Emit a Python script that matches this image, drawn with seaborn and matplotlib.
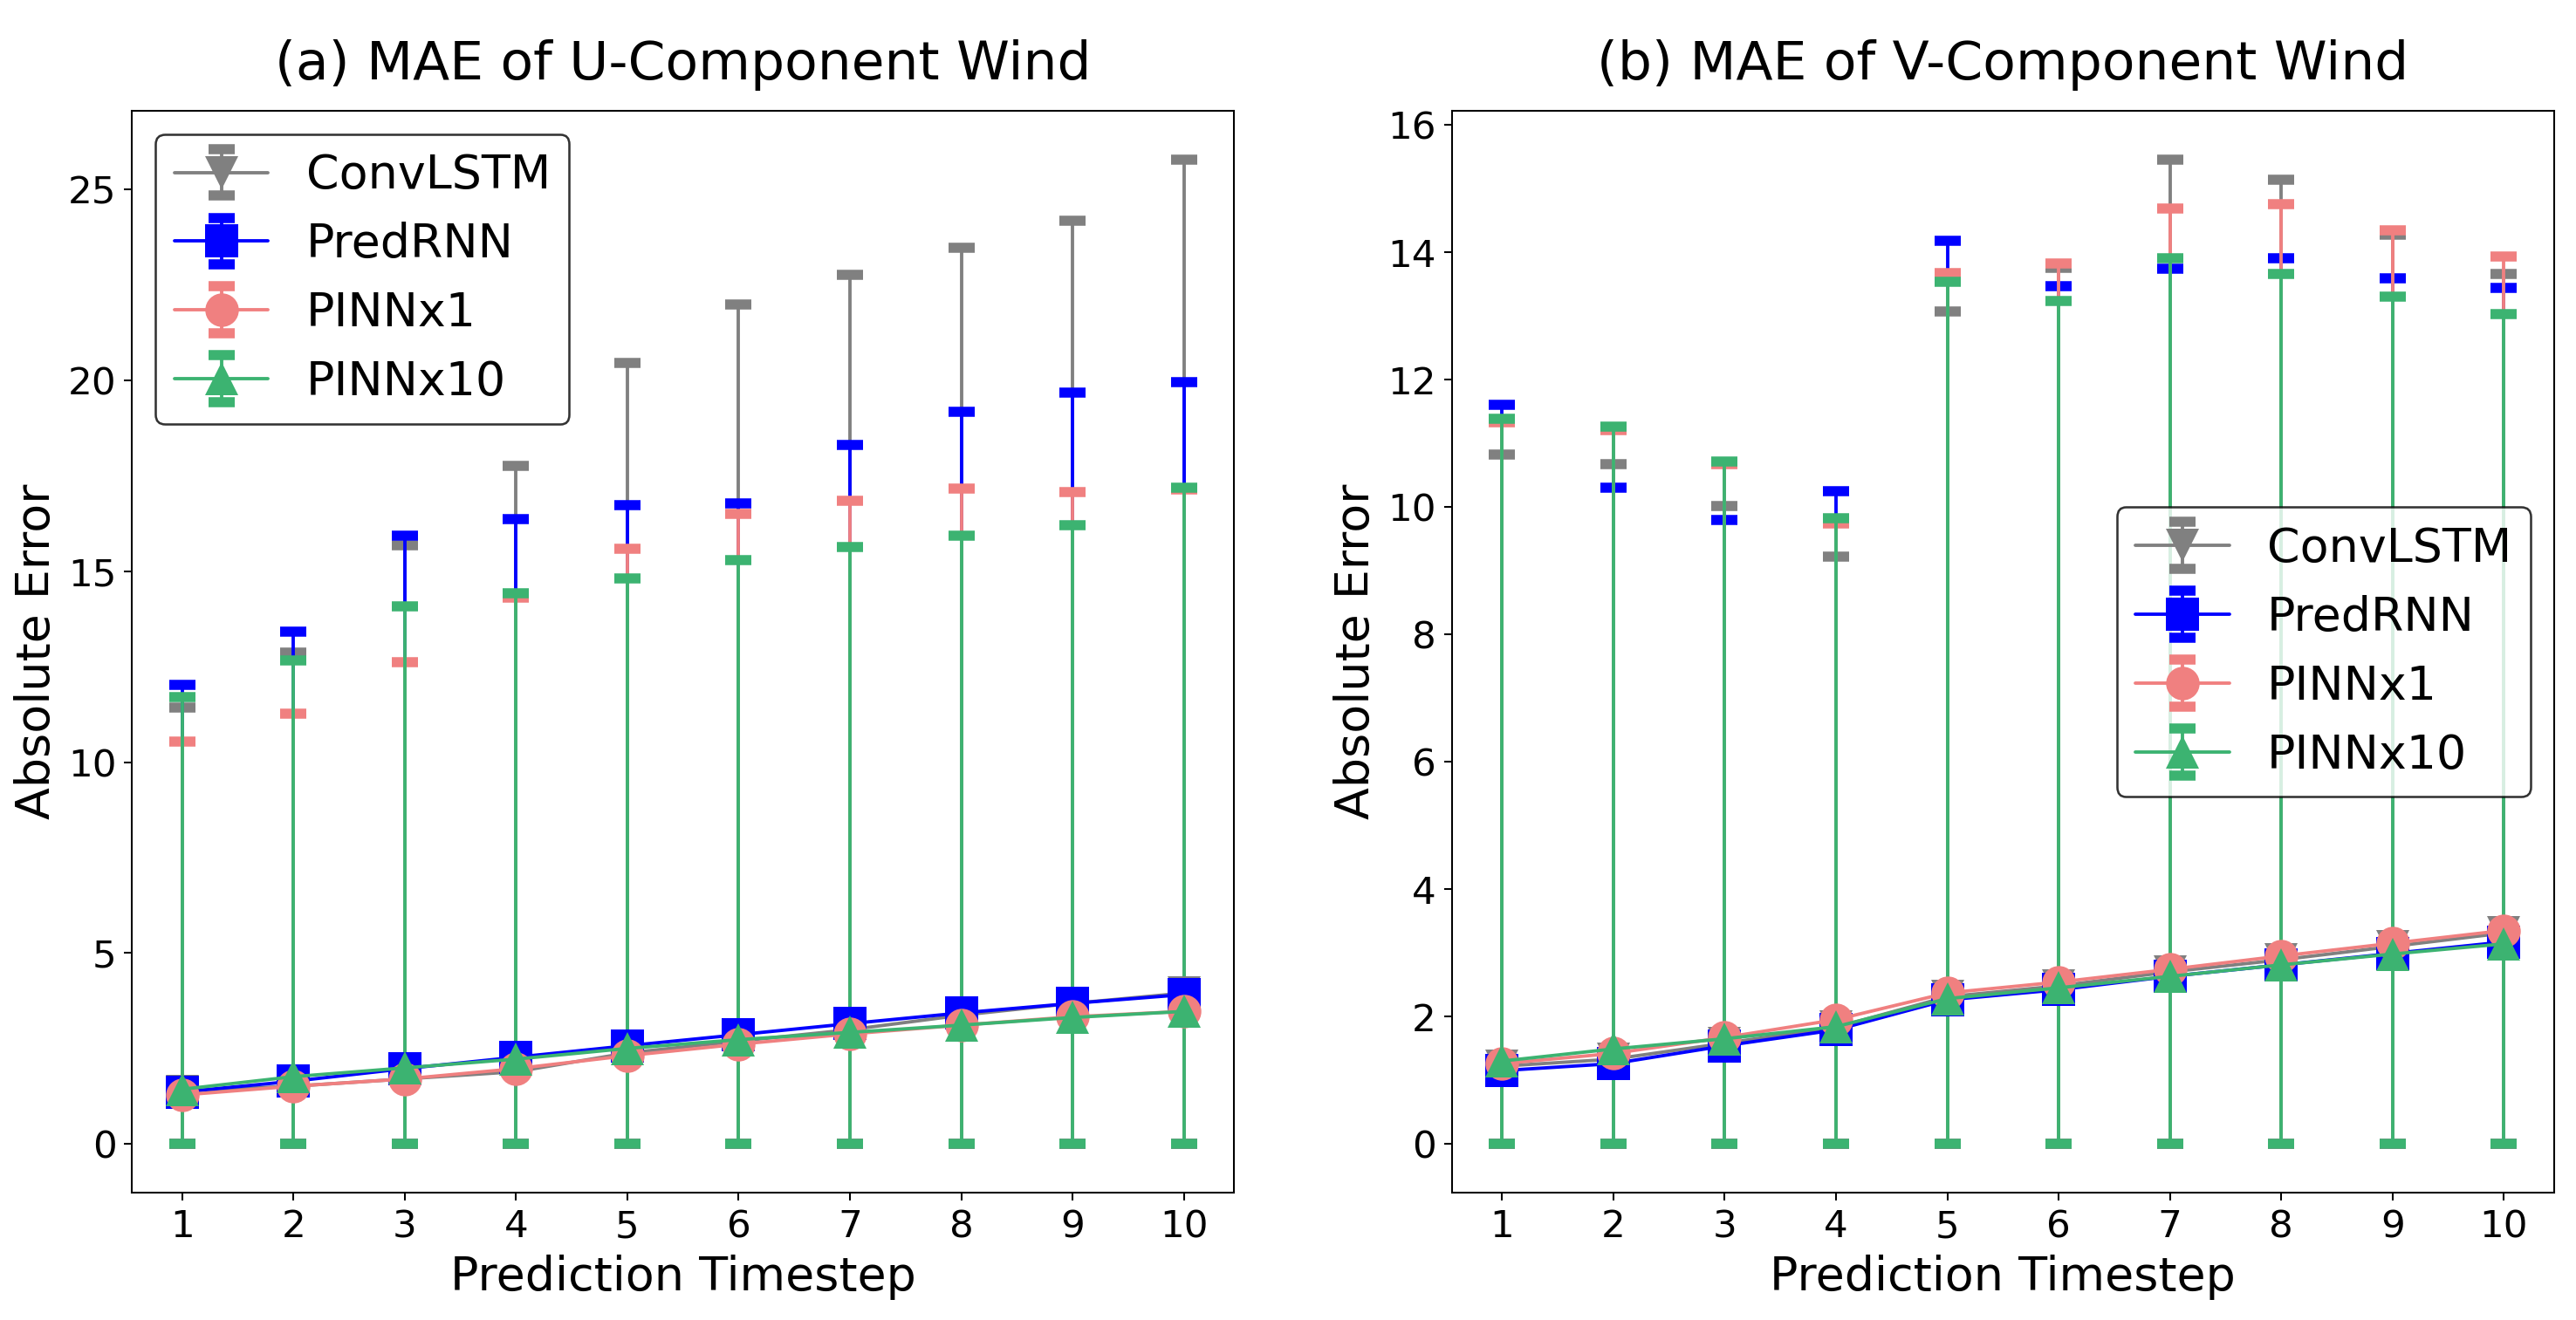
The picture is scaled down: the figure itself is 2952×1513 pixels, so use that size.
import numpy as np
import pandas as pd
import matplotlib
matplotlib.use("Agg")
import matplotlib.pyplot as plt
import seaborn as sns
from matplotlib.container import ErrorbarContainer

# ---------------- data ----------------
timesteps = [1, 2, 3, 4, 5, 6, 7, 8, 9, 10]
models = ["ConvLSTM", "PredRNN", "PINNx1", "PINNx10"]

# U-component: mean absolute error (line) and maximum (upper whisker)
u_mean_convlstm = [1.38, 1.51, 1.70, 1.89, 2.38, 2.69, 2.99, 3.37, 3.68, 3.95]
u_mean_predrnn = [1.36, 1.64, 1.97, 2.27, 2.57, 2.86, 3.15, 3.43, 3.68, 3.91]
u_mean_pinnx1 = [1.28, 1.51, 1.70, 1.97, 2.31, 2.61, 2.88, 3.11, 3.33, 3.47]
u_mean_pinnx10 = [1.43, 1.76, 1.99, 2.22, 2.50, 2.73, 2.92, 3.11, 3.31, 3.47]

u_max_convlstm = [11.43, 12.87, 15.69, 17.77, 20.46, 22.00, 22.76, 23.47, 24.18, 25.78]
u_max_predrnn = [12.03, 13.41, 15.94, 16.36, 16.73, 16.77, 18.31, 19.18, 19.69, 19.95]
u_max_pinnx1 = [10.55, 11.26, 12.62, 14.32, 15.59, 16.51, 16.85, 17.17, 17.08, 17.15]
u_max_pinnx10 = [11.70, 12.66, 14.09, 14.43, 14.81, 15.29, 15.63, 15.93, 16.22, 17.19]

# V-component
v_mean_convlstm = [1.22, 1.33, 1.58, 1.83, 2.31, 2.48, 2.70, 2.89, 3.10, 3.31]
v_mean_predrnn = [1.15, 1.26, 1.54, 1.79, 2.26, 2.42, 2.63, 2.81, 2.99, 3.17]
v_mean_pinnx1 = [1.26, 1.42, 1.67, 1.95, 2.37, 2.54, 2.74, 2.95, 3.15, 3.35]
v_mean_pinnx10 = [1.30, 1.49, 1.65, 1.84, 2.28, 2.45, 2.63, 2.81, 2.98, 3.14]

v_max_convlstm = [10.82, 10.68, 10.02, 9.22, 13.07, 13.75, 15.45, 15.14, 14.27, 13.66]
v_max_predrnn = [11.61, 10.31, 9.80, 10.25, 14.18, 13.47, 13.74, 13.91, 13.59, 13.44]
v_max_pinnx1 = [11.33, 11.21, 10.67, 9.74, 13.68, 13.82, 14.69, 14.75, 14.34, 13.93]
v_max_pinnx10 = [11.38, 11.26, 10.71, 9.82, 13.54, 13.23, 13.90, 13.66, 13.30, 13.03]

titles = ["(a) MAE of U-Component Wind", "(b) MAE of V-Component Wind"]
xlabel = "Prediction Timestep"
ylabel = "Absolute Error"

# ---------------- style ----------------
palette = {"ConvLSTM": "#808080", "PredRNN": "#0000ff",
           "PINNx1": "#f08080", "PINNx10": "#3cb371"}
marker_map = {"ConvLSTM": "v", "PredRNN": "s", "PINNx1": "o", "PINNx10": "^"}

sns.set_theme(style="ticks", rc={
    "axes.edgecolor": "black", "axes.linewidth": 0.8,
    "xtick.color": "black", "ytick.color": "black",
    "xtick.major.size": 3.5, "ytick.major.size": 3.5,
    "xtick.major.width": 0.8, "ytick.major.width": 0.8,
    "axes.labelcolor": "black", "text.color": "black",
})
plt.rcParams["font.family"] = ["DejaVu Sans"]

DPI = 184.5
fig = plt.figure(figsize=(2952 / DPI, 1513 / DPI), dpi=DPI)
ax1 = fig.add_axes([0.0513, 0.0962, 0.4277, 0.8199])
ax2 = fig.add_axes([0.5637, 0.0962, 0.4277, 0.8199])


def draw(ax, means, maxes, title, legend_loc):
    rows = []
    for m in models:
        for t, v in zip(timesteps, means[m]):
            rows.append({"Timestep": t, "MAE": v, "Model": m})
    df = pd.DataFrame(rows)
    sns.lineplot(data=df, x="Timestep", y="MAE", hue="Model", style="Model",
                 hue_order=models, style_order=models, palette=palette,
                 markers=marker_map, dashes=False, markersize=15,
                 markeredgewidth=0, linewidth=1.5, legend=False, ax=ax)
    lines = list(ax.lines)[:len(models)]
    handles = []
    for m, ln in zip(models, lines):
        mean = np.array(means[m])
        mx = np.array(maxes[m])
        ec = ax.errorbar(timesteps, mean, yerr=[mean, mx - mean], fmt="none",
                         ecolor=palette[m], elinewidth=1.5, capsize=6,
                         capthick=4.5, zorder=1.9)
        _, caps, bars = ec.lines
        handles.append(ErrorbarContainer((ln, caps, bars),
                                         has_xerr=False, has_yerr=True))
    ax.legend(handles, models, loc=legend_loc, fontsize=21,
              edgecolor="black", framealpha=0.8)
    ax.set_title(title, fontsize=24, pad=14)
    ax.set_xlabel(xlabel, fontsize=21)
    ax.set_ylabel(ylabel, fontsize=21)
    ax.set_xticks(timesteps)
    ax.tick_params(labelsize=17)


draw(ax1,
     {"ConvLSTM": u_mean_convlstm, "PredRNN": u_mean_predrnn,
      "PINNx1": u_mean_pinnx1, "PINNx10": u_mean_pinnx10},
     {"ConvLSTM": u_max_convlstm, "PredRNN": u_max_predrnn,
      "PINNx1": u_max_pinnx1, "PINNx10": u_max_pinnx10},
     titles[0], "upper left")
draw(ax2,
     {"ConvLSTM": v_mean_convlstm, "PredRNN": v_mean_predrnn,
      "PINNx1": v_mean_pinnx1, "PINNx10": v_mean_pinnx10},
     {"ConvLSTM": v_max_convlstm, "PredRNN": v_max_predrnn,
      "PINNx1": v_max_pinnx1, "PINNx10": v_max_pinnx10},
     titles[1], "center right")

fig.savefig("out.png", dpi=DPI)
